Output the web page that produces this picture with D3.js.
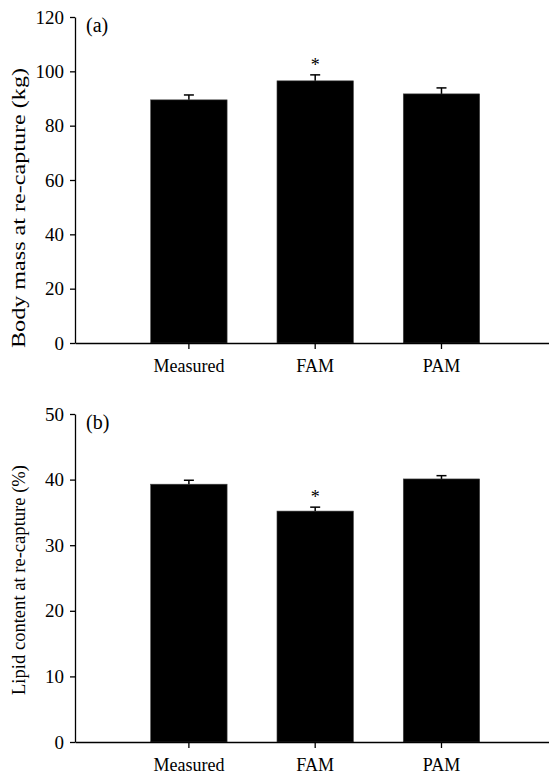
<!DOCTYPE html>
<html>
<head>
<meta charset="utf-8">
<script src="https://cdn.jsdelivr.net/npm/d3@7/dist/d3.min.js"></script>
<style>
  body { margin:0; background:#fff; }
  .axis path, .axis line { stroke:#000; stroke-width:1.3px; }
  .axis text { font-family:"Liberation Serif", serif; font-size:18px; fill:#000; }
  .axis-y text { font-size:19px; }
  .lbl { font-family:"Liberation Serif", serif; fill:#000; }
</style>
</head>
<body>
<div id="canvas" class="canvas"></div>
<script>
//data
var groups = ['Measured','FAM','PAM'];
var massMean = [89.5, 96.5, 91.7],
    massErr = [1.8, 2.2, 2.2];
var lipidMean = [39.3, 35.2, 40.1],
    lipidErr = [0.6, 0.6, 0.5];
var massTicks = [0,20,40,60,80,100,120],
    lipidTicks = [0,10,20,30,40,50];
var signif = ['','*',''];

var outerWidth = 549, outerHeight = 775;

var svg = d3.select('.canvas')
    .append('svg')
    .attr('width',outerWidth)
    .attr('height',outerHeight);

var scaleX = d3.scaleBand()
    .domain(groups)
    .range([75,549])
    .paddingInner(0.395)
    .paddingOuter(0.574)
    .align(0.522);

function panel(top, bottom, means, errs, ticks, maxY, title, titleLen, titleY, tag){
  var scaleY = d3.scaleLinear()
      .domain([0,maxY])
      .range([bottom,top]);

  var rows = groups.map(function(g,i){
    return {name:g, mean:means[i], err:errs[i], star:signif[i]};
  });

  var g = svg.append('g');

  //bars
  g.selectAll('.bar')
      .data(rows)
      .enter()
      .append('rect')
      .attr('class','bar')
      .attr('x',function(d){return scaleX(d.name)})
      .attr('width',scaleX.bandwidth())
      .attr('y',function(d){return scaleY(d.mean)})
      .attr('height',function(d){return scaleY(0) - scaleY(d.mean)})
      .attr('fill','#000')
      .attr('stroke','#444')
      .attr('stroke-width',0.6);

  //error bars (upper only)
  var eb = g.selectAll('.err')
      .data(rows)
      .enter()
      .append('g')
      .attr('class','err')
      .attr('transform',function(d){
        return 'translate(' + (scaleX(d.name) + scaleX.bandwidth()/2) + ',0)';
      });
  eb.append('line')
      .attr('x1',0).attr('x2',0)
      .attr('y1',function(d){return scaleY(d.mean)})
      .attr('y2',function(d){return scaleY(d.mean + d.err)})
      .attr('stroke','#000')
      .attr('stroke-width',1.5);
  eb.append('line')
      .attr('x1',-5).attr('x2',5)
      .attr('y1',function(d){return scaleY(d.mean + d.err)})
      .attr('y2',function(d){return scaleY(d.mean + d.err)})
      .attr('stroke','#000')
      .attr('stroke-width',1.5);
  eb.append('text')
      .attr('class','lbl')
      .attr('text-anchor','middle')
      .attr('y',function(d){return scaleY(d.mean + d.err) - 4})
      .style('font-size','18px')
      .text(function(d){return d.star});

  //axes
  var axisX = d3.axisBottom()
      .scale(scaleX)
      .tickSizeInner(6)
      .tickSizeOuter(0)
      .tickPadding(10);
  var axisY = d3.axisLeft()
      .scale(scaleY)
      .tickValues(ticks)
      .tickSizeInner(5)
      .tickSizeOuter(0)
      .tickPadding(6);
  g.append('g').attr('class','axis axis-x')
      .attr('transform','translate(0,' + bottom + ')')
      .call(axisX);
  g.append('g').attr('class','axis axis-y')
      .attr('transform','translate(75,0)')
      .call(axisY);

  //y title
  g.append('text')
      .attr('class','lbl')
      .attr('transform','translate(25,' + titleY + ') rotate(-90)')
      .attr('text-anchor','middle')
      .attr('textLength',titleLen)
      .attr('lengthAdjust','spacingAndGlyphs')
      .style('font-size','18px')
      .text(title);

  //panel tag
  g.append('text')
      .attr('class','lbl')
      .attr('x',86)
      .attr('y',top + 15)
      .style('font-size','20px')
      .text(tag);
}

panel(17, 343, massMean, massErr, massTicks, 120, 'Body mass at re-capture (kg)', 280, 208, '(a)');
panel(414, 742, lipidMean, lipidErr, lipidTicks, 50, 'Lipid content at re-capture (%)', 230, 580, '(b)');
</script>
</body>
</html>
